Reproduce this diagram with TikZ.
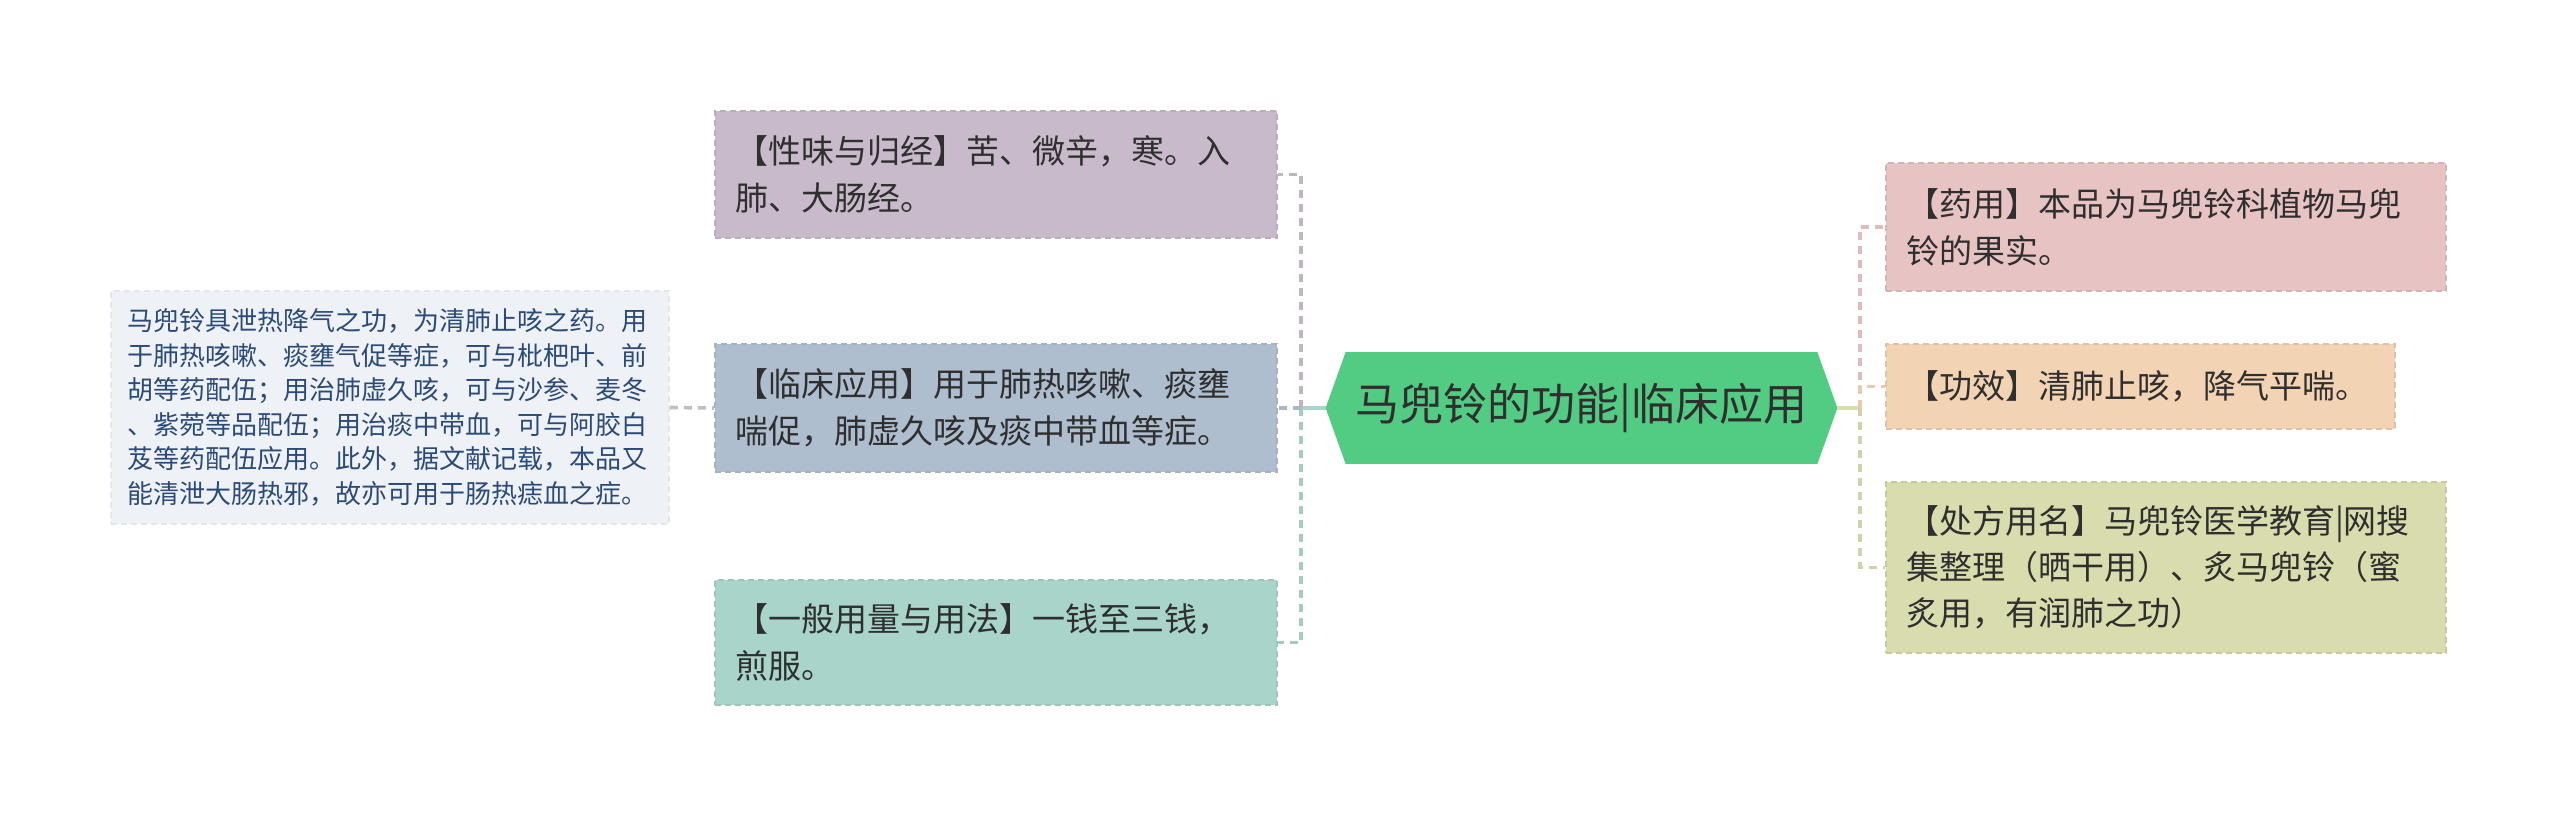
\documentclass[tikz,border=0pt]{standalone}
\usepackage{fontspec}
\setmainfont{Noto Sans CJK SC}
\usetikzlibrary{backgrounds}
\definecolor{xwc}{HTML}{C8BACB}
\definecolor{lcc}{HTML}{AEBECF}
\definecolor{ylc}{HTML}{A8D4CA}
\definecolor{detc}{HTML}{EEF2F6}
\definecolor{hexc}{HTML}{52CC83}
\definecolor{yyc}{HTML}{E8C3C3}
\definecolor{gxc}{HTML}{F2D3B3}
\definecolor{cfc}{HTML}{D9DCAD}
\definecolor{txt}{HTML}{2F2F2F}
\definecolor{dettxt}{HTML}{2C4A78}
\begin{document}
\begin{tikzpicture}[x=0.5pt,y=-0.5pt,
  box/.style={rectangle,inner xsep=10pt,inner ysep=0pt,align=left,text=txt,
    font=\fontsize{16.5}{23.5}\selectfont,dash pattern=on 3pt off 2pt,line width=0.8pt},
  lnk/.style={line width=1.8pt,dash pattern=on 4pt off 3pt}]
\useasboundingbox (0,0) rectangle (2560,818);
\node[box,fill=xwc,draw=xwc!80!gray,text width=261pt,minimum height=63.5pt] (xw) at (996,174.5)
  {【性味与归经】苦、微辛，寒。入\\肺、大肠经。};
\node[box,fill=lcc,draw=lcc!80!gray,text width=261pt,minimum height=64pt] (lc) at (996,408)
  {【临床应用】用于肺热咳嗽、痰壅\\喘促，肺虚久咳及痰中带血等症。};
\node[box,fill=ylc,draw=ylc!80!gray,text width=261pt,minimum height=62.5pt] (yl) at (996,642.5)
  {【一般用量与用法】一钱至三钱，\\煎服。};
\node[box,fill=detc,draw=detc!90!gray,text=dettxt,inner xsep=8pt,text width=263pt,minimum height=116.5pt,
  font=\fontsize{13}{17.3}\selectfont] (detail) at (390,407.5)
  {马兜铃具泄热降气之功，为清肺止咳之药。用\\于肺热咳嗽、痰壅气促等症，可与枇杷叶、前\\胡等药配伍；用治肺虚久咳，可与沙参、麦冬\\、紫菀等品配伍；用治痰中带血，可与阿胶白\\芨等药配伍应用。此外，据文献记载，本品又\\能清泄大肠热邪，故亦可用于肠热痣血之症。};
\node[font=\fontsize{22}{26}\selectfont,text=txt,minimum width=255.5pt,minimum height=55.5pt,inner sep=0pt] (hex) at (1581.5,408)
  {马兜铃的功能|临床应用};
\begin{scope}[on background layer]
\fill[hexc] (hex.west) -- ([xshift=10pt]hex.north west) -- ([xshift=-10pt]hex.north east) -- (hex.east)
  -- ([xshift=-10pt]hex.south east) -- ([xshift=10pt]hex.south west) -- cycle;
\end{scope}
\node[box,fill=yyc,draw=yyc!80!gray,text width=260pt,minimum height=64pt] (yy) at (2166,227)
  {【药用】本品为马兜铃科植物马兜\\铃的果实。};
\node[box,fill=gxc,draw=gxc!80!gray,text width=234.5pt,minimum height=42.5pt] (gx) at (2140.5,386.5)
  {【功效】清肺止咳，降气平喘。};
\node[box,fill=cfc,draw=cfc!80!gray,text width=260pt,minimum height=85.5pt,
  font=\fontsize{16.5}{22.9}\selectfont] (cf) at (2166,567.5)
  {【处方用名】马兜铃医学教育|网搜\\集整理（晒干用）、炙马兜铃（蜜\\炙用，有润肺之功）};
\coordinate (lt) at (1301,408);
\coordinate (rt) at (1860,408);
\draw[lnk,solid,draw=ylc] (hex.west) -- (lt);
\draw[lnk,draw=xwc!90!gray] (lt) |- (xw.east);
\draw[lnk,draw=ylc!90!gray] (lt) |- (yl.east);
\draw[lnk,draw=lcc!90!gray] (lt) -- (lc.east);
\draw[lnk,draw=gray!50] (detail.east) -- (lc.west);
\draw[lnk,solid,draw=cfc] (hex.east) -- (rt);
\draw[lnk,draw=yyc!90!gray] (rt) |- (yy.west);
\draw[lnk,draw=gxc!90!gray] (rt) |- (gx.west);
\draw[lnk,draw=cfc!90!gray] (rt) |- (cf.west);
\end{tikzpicture}
\end{document}
